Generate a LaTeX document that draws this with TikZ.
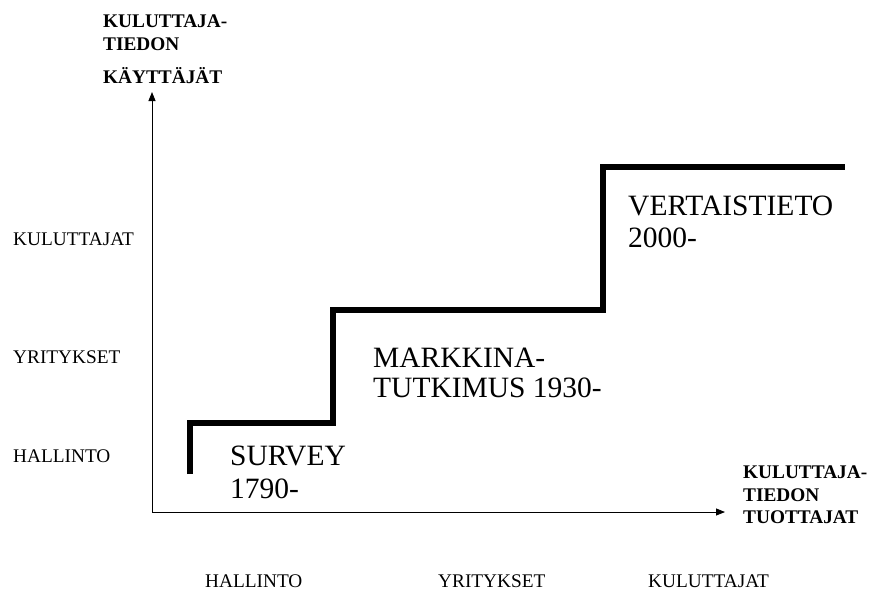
\documentclass[tikz,border=0pt]{standalone}
\usepackage{fontspec}
\setmainfont{Liberation Serif}
\usetikzlibrary{arrows.meta}
\tikzset{
  axis/.style={line width=0.9pt, draw=black, -{Triangle[length=9pt,width=7pt]}},
  stair/.style={line width=6pt, draw=black, line join=miter},
  small/.style={inner sep=0pt, anchor=base west, font=\fontsize{19.3}{23}\selectfont},
  smallbold/.style={inner sep=0pt, anchor=base west, font=\fontsize{19.3}{23}\selectfont\bfseries},
  big/.style={inner sep=0pt, anchor=base west, font=\fontsize{29.5}{31}\selectfont},
}
\begin{document}
\begin{tikzpicture}[x=1pt, y=-1pt]
\useasboundingbox (0,0) rectangle (874,592);
% axes
\coordinate (O) at (152,512);
\coordinate (Ytip) at (152,92);
\coordinate (Xtip) at (725,512);
\draw[axis] (O) -- (Ytip);
\draw[axis] (O) -- (Xtip);
% staircase
\coordinate (s0) at (190,474);
\coordinate (s1) at (190,423);
\coordinate (s2) at (333,423);
\coordinate (s3) at (333,310);
\coordinate (s4) at (603,310);
\coordinate (s5) at (603,167);
\coordinate (s6) at (845,167);
\draw[stair] (s0) -- (s1) -- (s2) -- (s3) -- (s4) -- (s5) -- (s6);
% y-axis title
\node[smallbold] (yt1) at (103,27) {KULUTTAJA-};
\node[smallbold] (yt2) at (103,50) {TIEDON};
\node[smallbold] (yt3) at (103,83) {KÄYTTÄJÄT};
% x-axis title
\node[smallbold] (xt1) at (743,478) {KULUTTAJA-};
\node[smallbold] (xt2) at (743,501) {TIEDON};
\node[smallbold] (xt3) at (743,523) {TUOTTAJAT};
% y labels
\node[small] (yl1) at (13,245) {KULUTTAJAT};
\node[small] (yl2) at (13,363) {YRITYKSET};
\node[small] (yl3) at (13,462) {HALLINTO};
% x labels
\node[small] (xl1) at (205,587) {HALLINTO};
\node[small] (xl2) at (438,587) {YRITYKSET};
\node[small] (xl3) at (648,587) {KULUTTAJAT};
% era labels
\node[big] (e1a) at (230,465) {SURVEY};
\node[big] (e1b) at (230,498) {1790-};
\node[big] (e2a) at (373,367) {MARKKINA-};
\node[big] (e2b) at (373,397) {TUTKIMUS 1930-};
\node[big] (e3a) at (628,215) {VERTAISTIETO};
\node[big] (e3b) at (628,247) {2000-};
\end{tikzpicture}
\end{document}
